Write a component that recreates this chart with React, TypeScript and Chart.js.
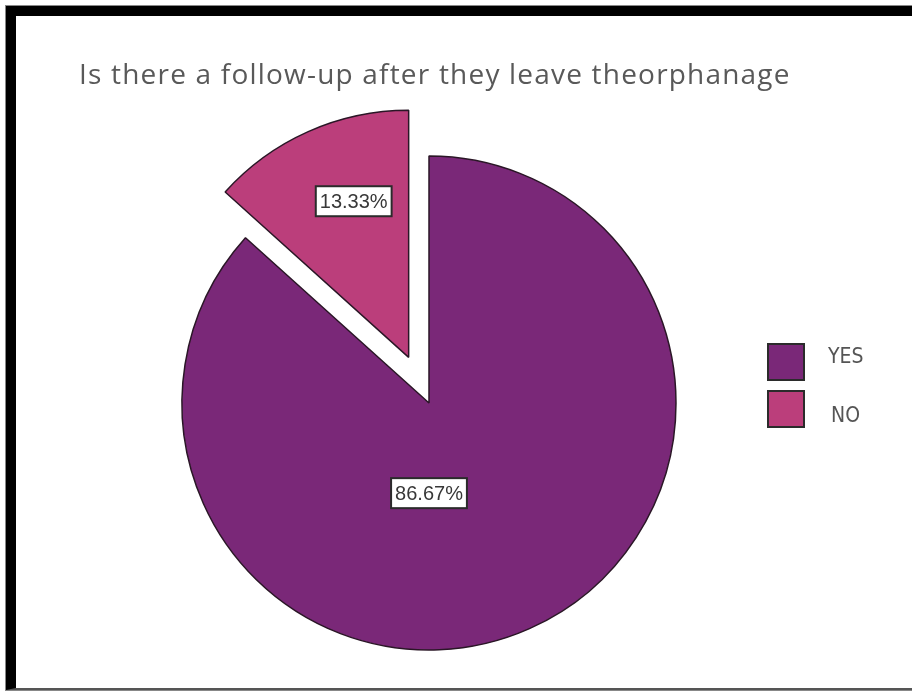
import React, { useEffect, useRef } from "react";
import { Chart, registerables } from "chart.js";

Chart.register(...registerables);

const TITLE = "Is there a follow-up after they leave theorphanage";
const categories = ["YES", "NO"];
const percentages = [86.67, 13.33];
const sliceColors = ["#7A2878", "#BB3E7B"];
const explodeDistances = [0, 50];

const explodePlugin = {
  id: "explode",
  afterDatasetsUpdate(chart: any, _args: any, opts: any) {
    const meta = chart.getDatasetMeta(0);
    meta.data.forEach((arc: any, i: number) => {
      const d = (opts.distances && opts.distances[i]) || 0;
      if (!d) return;
      const mid = (arc.startAngle + arc.endAngle) / 2;
      arc.x += Math.cos(mid) * d;
      arc.y += Math.sin(mid) * d;
    });
  },
};

const decorPlugin = {
  id: "decor",
  afterDraw(chart: any, _args: any, opts: any) {
    const ctx = chart.ctx;
    const meta = chart.getDatasetMeta(0);
    const ds = chart.data.datasets[0];
    ctx.save();
    // title
    ctx.font = opts.titleFont;
    ctx.fillStyle = "#595959";
    ctx.textAlign = "left";
    ctx.textBaseline = "alphabetic";
    (ctx as any).letterSpacing = opts.titleSpacing;
    ctx.fillText(opts.title, opts.titleX, opts.titleY);
    (ctx as any).letterSpacing = "0px";

    // value labels
    ctx.font = opts.labelFont;
    meta.data.forEach((arc: any, i: number) => {
      const anchor = opts.anchors[i];
      const ang = ((anchor.angle - 90) * Math.PI) / 180;
      const r = arc.outerRadius * anchor.frac;
      const cx = arc.x + Math.cos(ang) * r;
      const cy = arc.y + Math.sin(ang) * r;
      const text = ds.data[i].toFixed(2) + "%";
      const w = ctx.measureText(text).width + 8;
      const h = 30;
      ctx.fillStyle = "#ffffff";
      ctx.fillRect(cx - w / 2, cy - h / 2, w, h);
      ctx.lineWidth = 2;
      ctx.strokeStyle = "#2b2b2b";
      ctx.strokeRect(cx - w / 2, cy - h / 2, w, h);
      ctx.fillStyle = "#383838";
      ctx.textAlign = "center";
      ctx.textBaseline = "middle";
      ctx.fillText(text, cx, cy + 1);
    });

    // legend
    const lx = opts.legendX;
    const ly = opts.legendY;
    chart.data.labels.forEach((lab: string, i: number) => {
      const y = ly + i * 47;
      ctx.fillStyle = ds.backgroundColor[i];
      ctx.fillRect(lx, y, 36, 36);
      ctx.lineWidth = 2;
      ctx.strokeStyle = "#2b2b2b";
      ctx.strokeRect(lx, y, 36, 36);
      ctx.font = opts.legendFont;
      ctx.fillStyle = "#555555";
      ctx.textAlign = "left";
      ctx.textBaseline = "middle";
      ctx.fillText(lab, lx + 60 + (i === 1 ? 3 : 0), y + 14 + i * 12);
    });
    ctx.restore();
  },
};

export default function App() {
  const ref = useRef<HTMLCanvasElement | null>(null);
  useEffect(() => {
    if (!ref.current) return;
    const chart = new Chart(ref.current, {
      type: "pie",
      data: {
        labels: categories,
        datasets: [
          {
            data: percentages,
            backgroundColor: sliceColors,
            borderColor: "#2a1626",
            borderWidth: 1.5,
            clip: false as any,
          } as any,
        ],
      },
      options: {
        responsive: false,
        animation: false,
        events: [],
        radius: 247,
        layout: { padding: { left: 179, right: 233, top: 153, bottom: 38 } },
        plugins: {
          legend: { display: false },
          title: { display: false },
          tooltip: { enabled: false },
          explode: { distances: explodeDistances },
          decor: {
            title: TITLE,
            titleFont: "28px 'Open Sans', sans-serif",
            titleSpacing: "1.2px",
            titleX: 79,
            titleY: 84,
            labelFont: "20px 'Liberation Sans', Arial, sans-serif",
            anchors: [
              { angle: 180, frac: 0.365 },
              { angle: 340.6, frac: 0.67 },
            ],
            legendFont: "21px 'Liberation Sans Narrow', 'DejaVu Sans Condensed', 'Roboto', sans-serif",
            legendX: 768,
            legendY: 344,
          },
        } as any,
      } as any,
      plugins: [explodePlugin, decorPlugin],
    });
    return () => chart.destroy();
  }, []);

  return (
    <div style={{ position: "absolute", left: 0, top: 0, width: 912, height: 691, overflow: "hidden", background: "#fff" }}>
      <div
        style={{
          position: "absolute",
          left: 6,
          top: 6,
          width: 940,
          height: 684,
          boxSizing: "border-box",
          borderTop: "10px solid #000",
          borderLeft: "10px solid #000",
          borderBottom: "2px solid #555",
          outline: "1px solid #888",
        }}
      />
      <canvas ref={ref} width={912} height={691} style={{ position: "absolute", left: 0, top: 0, width: 912, height: 691 }} />
    </div>
  );
}
